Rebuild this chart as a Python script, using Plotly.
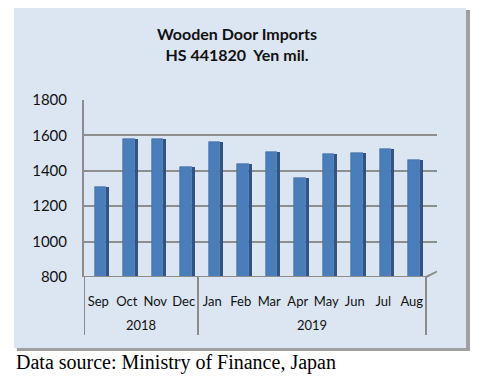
import plotly.graph_objects as go

months = ["Sep", "Oct", "Nov", "Dec", "Jan", "Feb", "Mar", "Apr", "May", "Jun", "Jul", "Aug"]
years = ["2018", "2019"]
year_counts = [4, 8]
values = [1310, 1580, 1580, 1420, 1565, 1440, 1505, 1360, 1495, 1500, 1525, 1460]
y_ticks = [800, 1000, 1200, 1400, 1600, 1800]

OFF = 8  # page body margin: figure starts at (8, 8) in the window
W, H = 482 - OFF, 381 - OFF
# plot area in window pixels: x 84..437, y 100..277
PX0, PX1, PY0, PY1 = 84, 437, 100, 277
L, R, T, B = PX0 - OFF, W - (PX1 - OFF), PY0 - OFF, H - (PY1 - OFF)
PW, PH = PX1 - PX0, PY1 - PY0


def px_x(px):
    return (px - PX0) / PW


def px_y(py):
    return (PY1 - py) / PH


xs = list(range(len(months)))
fig = go.Figure()
fig.add_trace(go.Bar(x=xs, y=[v - 800 for v in values], base=800, width=0.4, offset=-0.12,
                     marker=dict(color="#4A7EBB", line=dict(width=0.6, color="#3A6699")),
                     hoverinfo="skip", showlegend=False))
fig.add_trace(go.Bar(x=xs, y=[v - 800 for v in values], base=800, width=0.11, offset=0.28,
                     marker=dict(color="#2F5485", line=dict(width=0)),
                     hoverinfo="skip", showlegend=False))

shapes = []
shapes.append(dict(type="rect", xref="paper", yref="paper", x0=px_x(17), x1=px_x(470),
                   y0=px_y(351), y1=px_y(10), fillcolor="#A0A0A0", line=dict(width=0), layer="below"))
shapes.append(dict(type="rect", xref="paper", yref="paper", x0=px_x(14), x1=px_x(466),
                   y0=px_y(348), y1=px_y(7), fillcolor="#DCE6F2", line=dict(width=0), layer="below"))
axis_col = "#8C8C8C"
shapes.append(dict(type="line", xref="x", yref="y", x0=-0.5, x1=11.5, y0=800, y1=800,
                   line=dict(color=axis_col, width=2)))
shapes.append(dict(type="line", xref="x", yref="paper", x0=11.5, x1=11.5 + 12 / 28.5,
                   y0=px_y(277), y1=px_y(271), line=dict(color=axis_col, width=2)))
bounds = [-0.5]
for c in year_counts:
    bounds.append(bounds[-1] + c)
for bx in bounds:
    shapes.append(dict(type="line", xref="x", yref="paper", x0=bx, x1=bx,
                       y0=px_y(277), y1=px_y(335), line=dict(color=axis_col, width=2)))

annotations = [
    dict(text="<b>Wooden Door Imports<br>HS 441820  Yen mil.</b>", xref="paper", yref="paper",
         x=px_x(237), y=px_y(44), xanchor="center", yanchor="middle", showarrow=False,
         font=dict(family="Lato", size=16, color="#111"), align="center"),
    dict(text="Data source: Ministry of Finance, Japan", xref="paper", yref="paper",
         x=px_x(14), y=px_y(362), xanchor="left", yanchor="middle", showarrow=False,
         font=dict(family="Liberation Serif", size=20, color="#000")),
]
start = -0.5
for yr, c in zip(years, year_counts):
    annotations.append(dict(text=yr, xref="x", yref="paper", x=start + c / 2, y=px_y(325),
                            xanchor="center", yanchor="middle", showarrow=False,
                            font=dict(family="Lato", size=13, color="#111")))
    start += c

fig.update_layout(
    width=W, height=H, margin=dict(l=L, r=R, t=T, b=B),
    paper_bgcolor="white", plot_bgcolor="rgba(0,0,0,0)",
    barmode="overlay", bargap=0,
    shapes=shapes, annotations=annotations,
    xaxis=dict(tickmode="array", tickvals=xs, ticktext=months, range=[-0.5, 11.886],
               showgrid=False, zeroline=False, showline=False, ticks="outside", ticklen=12,
               tickcolor="rgba(0,0,0,0)", tickfont=dict(family="Lato", size=13, color="#111")),
    yaxis=dict(range=[800, 1800], tickvals=y_ticks, showgrid=True, gridcolor="#8E8E8E",
               gridwidth=1.5, zeroline=False, showline=True, linecolor=axis_col, linewidth=2,
               ticks="outside", ticklen=12, tickcolor="rgba(0,0,0,0)",
               tickfont=dict(family="Lato", size=15, color="#111")),
)

fig.write_html("out.html")
